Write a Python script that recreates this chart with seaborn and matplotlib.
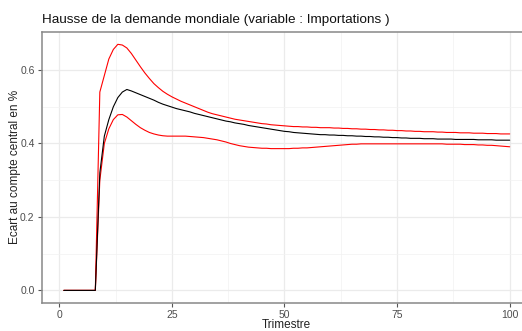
import numpy as np
import pandas as pd
import matplotlib
matplotlib.use("Agg")
import matplotlib.pyplot as plt
import seaborn as sns

# Quarters 1..100 (Trimestre)
trimestre = list(range(1, 101))

# Central response (% deviation from baseline)
centrale = [0.0] * 8 + [
    0.32, 0.42, 0.465, 0.50, 0.525, 0.540, 0.547, 0.543, 0.538, 0.533,
    0.528, 0.523, 0.518, 0.512, 0.507, 0.503, 0.499, 0.495, 0.492, 0.489,
    0.486, 0.482, 0.479, 0.476, 0.473, 0.470, 0.467, 0.464, 0.461, 0.459,
    0.456, 0.454, 0.452, 0.449, 0.447, 0.445, 0.443, 0.441, 0.439, 0.437,
    0.435, 0.433, 0.432, 0.430, 0.429, 0.428, 0.427, 0.426, 0.425, 0.424,
    0.424, 0.423, 0.423, 0.422, 0.422, 0.421, 0.421, 0.420, 0.420, 0.419,
    0.419, 0.418, 0.418, 0.417, 0.417, 0.416, 0.416, 0.415, 0.415, 0.414,
    0.414, 0.414, 0.413, 0.413, 0.413, 0.412, 0.412, 0.412, 0.412, 0.411,
    0.411, 0.411, 0.411, 0.411, 0.410, 0.410, 0.410, 0.410, 0.409, 0.409,
    0.409, 0.409,
]

# Upper bound of the band
borne_haute = [0.0] * 8 + [
    0.54, 0.585, 0.63, 0.656, 0.670, 0.668, 0.660, 0.645, 0.627, 0.609,
    0.592, 0.577, 0.563, 0.552, 0.542, 0.534, 0.527, 0.521, 0.515, 0.510,
    0.505, 0.500, 0.495, 0.490, 0.485, 0.481, 0.478, 0.475, 0.472, 0.469,
    0.466, 0.464, 0.462, 0.460, 0.458, 0.456, 0.454, 0.453, 0.451, 0.450,
    0.449, 0.448, 0.447, 0.446, 0.446, 0.445, 0.445, 0.444, 0.444, 0.443,
    0.443, 0.443, 0.442, 0.442, 0.441, 0.441, 0.440, 0.440, 0.439, 0.439,
    0.438, 0.438, 0.437, 0.437, 0.436, 0.436, 0.435, 0.435, 0.434, 0.434,
    0.433, 0.433, 0.432, 0.432, 0.432, 0.431, 0.431, 0.430, 0.430, 0.430,
    0.429, 0.429, 0.429, 0.428, 0.428, 0.428, 0.427, 0.427, 0.427, 0.426,
    0.426, 0.426,
]

# Lower bound of the band
borne_basse = [0.0] * 8 + [
    0.30, 0.40, 0.44, 0.465, 0.478, 0.479, 0.472, 0.462, 0.452, 0.443,
    0.436, 0.430, 0.426, 0.423, 0.421, 0.420, 0.420, 0.420, 0.420, 0.420,
    0.419, 0.418, 0.417, 0.416, 0.414, 0.412, 0.410, 0.407, 0.404, 0.400,
    0.397, 0.394, 0.392, 0.390, 0.389, 0.388, 0.387, 0.387, 0.386, 0.386,
    0.386, 0.386, 0.386, 0.387, 0.387, 0.388, 0.388, 0.389, 0.390, 0.391,
    0.392, 0.393, 0.394, 0.395, 0.396, 0.397, 0.398, 0.398, 0.399, 0.399,
    0.399, 0.399, 0.399, 0.399, 0.399, 0.399, 0.399, 0.399, 0.399, 0.399,
    0.399, 0.399, 0.399, 0.399, 0.399, 0.399, 0.399, 0.398, 0.398, 0.398,
    0.398, 0.397, 0.397, 0.397, 0.396, 0.396, 0.395, 0.395, 0.394, 0.393,
    0.392, 0.391,
]

x_ticks = [0, 25, 50, 75, 100]
y_ticks = [0.0, 0.2, 0.4, 0.6]

df = pd.DataFrame({
    "Trimestre": trimestre * 3,
    "valeur": borne_haute + centrale + borne_basse,
    "serie": ["haute"] * 100 + ["centrale"] * 100 + ["basse"] * 100,
})

sns.set_theme(style="white")
plt.rcParams["font.family"] = ["Liberation Sans", "DejaVu Sans"]

fig = plt.figure(figsize=(5.22, 3.31), dpi=100)
ax = fig.add_axes([41.5 / 522, (331 - 302.7) / 331, (532 - 41.5) / 522, (302.7 - 32) / 331])

sns.lineplot(data=df, x="Trimestre", y="valeur", hue="serie",
             palette={"haute": "#FF0000", "centrale": "#000000", "basse": "#FF0000"},
             hue_order=["haute", "basse", "centrale"],
             linewidth=0.8, legend=False, ax=ax, zorder=3)

xmin, xmax = 1, 100
xr = (xmax - xmin) * 0.05
ax.set_xlim(xmin - xr, xmax + xr)
ymax = max(borne_haute)
yr = ymax * 0.05
ax.set_ylim(-yr, ymax + yr)

ax.set_xticks(x_ticks)
ax.set_xticklabels([str(v) for v in x_ticks])
ax.set_yticks(y_ticks)
ax.set_yticklabels([f"{v:.1f}" for v in y_ticks])
ax.set_xticks([12.5, 37.5, 62.5, 87.5], minor=True)
ax.set_yticks([0.1, 0.3, 0.5], minor=True)

ax.grid(True, which="major", color="#EBEBEB", linewidth=0.9, zorder=0)
ax.grid(True, which="minor", color="#F2F2F2", linewidth=0.5, zorder=0)
ax.set_axisbelow(True)

ax.tick_params(axis="both", which="major", length=3, width=0.8, color="#555555",
               labelsize=7.5, labelcolor="#4D4D4D", pad=2, direction="out",
               bottom=True, left=True)
ax.tick_params(axis="both", which="minor", length=0)

for side in ["left", "bottom", "top"]:
    ax.spines[side].set_visible(True)
    ax.spines[side].set_color("#888888")
    ax.spines[side].set_linewidth(1.1)
ax.spines["right"].set_visible(False)

ax.set_xlabel("Trimestre", fontsize=8.5, color="#222222")
ax.set_ylabel("Ecart au compte central en %", fontsize=8.5, color="#222222")
ax.xaxis.set_label_coords(0.5, -0.061)
ax.yaxis.set_label_coords(-0.042, 0.5)

fig.text(42 / 522, 1 - 20 / 331, "Hausse de la demande mondiale (variable : Importations )",
         fontsize=9.7, color="#111111", ha="left", va="center")

fig.savefig("out.png", dpi=100)
